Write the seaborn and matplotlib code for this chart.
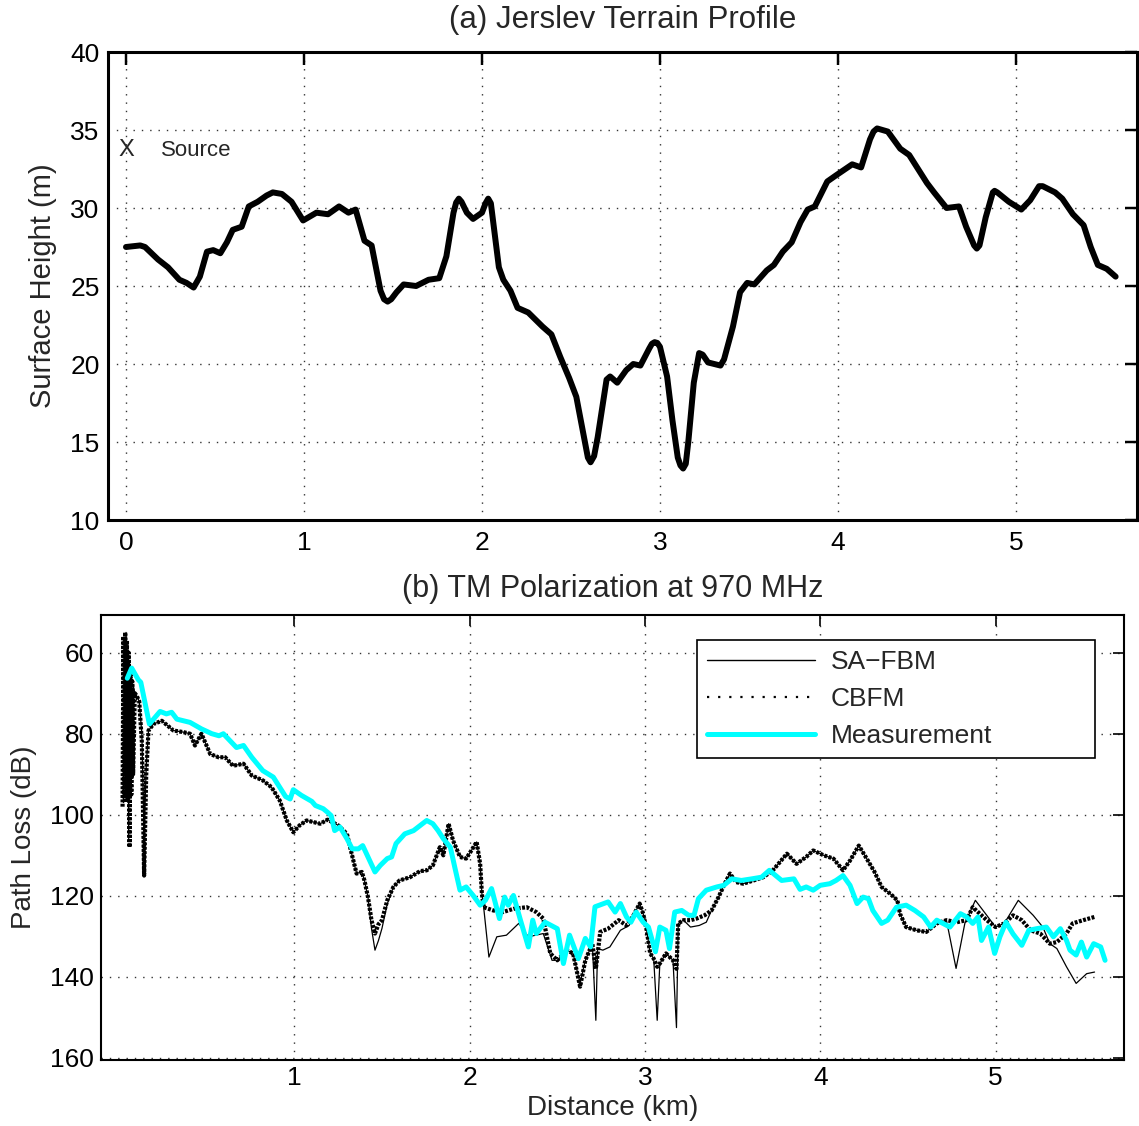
import matplotlib
matplotlib.use("Agg")
import matplotlib.pyplot as plt
import seaborn as sns
import pandas as pd

# ---------------- (a) terrain profile ----------------
terrain_km = [0.0, 0.08, 0.107, 0.18, 0.236, 0.30, 0.34, 0.38, 0.415, 0.455, 0.49, 0.53,
              0.567, 0.60, 0.65, 0.69, 0.74, 0.79, 0.825, 0.876, 0.93, 0.995, 1.07, 1.135, 1.197,
              1.25, 1.29, 1.34, 1.38, 1.43, 1.45, 1.47, 1.49, 1.52, 1.56, 1.63, 1.70, 1.76, 1.80, 1.84,
              1.855, 1.87, 1.885, 1.915, 1.95, 2.0, 2.02, 2.035, 2.05, 2.06, 2.095, 2.12, 2.16, 2.20,
              2.26, 2.34, 2.39, 2.44, 2.49, 2.53, 2.58, 2.595, 2.61, 2.63, 2.65, 2.70, 2.72, 2.76,
              2.81, 2.85, 2.89, 2.94, 2.955, 2.97, 2.985, 3.0, 3.04, 3.07, 3.10, 3.115, 3.13, 3.145,
              3.16, 3.19, 3.22, 3.24, 3.27, 3.34, 3.36, 3.41, 3.45, 3.49, 3.53, 3.60, 3.64, 3.69,
              3.74, 3.79, 3.83, 3.87, 3.94, 3.99, 4.08, 4.13, 4.18, 4.20, 4.22, 4.28, 4.35, 4.40,
              4.50, 4.54, 4.61, 4.68, 4.72, 4.765, 4.78, 4.795, 4.83, 4.87, 4.88, 4.895, 4.96,
              5.03, 5.08, 5.13, 5.15, 5.22, 5.26, 5.32, 5.38, 5.42, 5.46, 5.51, 5.56]
terrain_m = [27.5, 27.6, 27.5, 26.7, 26.2, 25.4, 25.2, 24.9, 25.6, 27.2, 27.3, 27.1,
             27.8, 28.6, 28.8, 30.1, 30.4, 30.8, 31.0, 30.9, 30.4, 29.2, 29.7, 29.6, 30.1,
             29.7, 29.9, 27.9, 27.6, 24.7, 24.15, 24.0, 24.15, 24.6, 25.1, 25.0, 25.4, 25.5, 26.9, 29.7,
             30.35, 30.6, 30.4, 29.7, 29.3, 29.7, 30.3, 30.6, 30.3, 29.4, 26.2, 25.4, 24.7, 23.6,
             23.3, 22.4, 21.9, 20.45, 19.1, 17.9, 14.9, 14.0, 13.7, 14.1, 15.3, 19.0, 19.2, 18.8,
             19.6, 20.0, 19.9, 21.0, 21.3, 21.4, 21.35, 21.1, 19.2, 16.4, 14.0, 13.5, 13.3, 13.6,
             15.1, 18.8, 20.7, 20.6, 20.1, 19.9, 20.3, 22.4, 24.6, 25.2, 25.1, 26.0, 26.35, 27.2,
             27.8, 29.1, 29.9, 30.1, 31.7, 32.1, 32.8, 32.6, 34.4, 34.9, 35.1, 34.9, 33.8, 33.4,
             31.6, 31.0, 30.0, 30.1, 28.8, 27.6, 27.4, 27.6, 29.4, 31.0, 31.1, 31.0, 30.4,
             29.9, 30.5, 31.4, 31.4, 31.0, 30.6, 29.6, 28.9, 27.5, 26.35, 26.1, 25.6]

# ---------------- (b) path loss at 970 MHz ----------------
safbm_km = [0.025, 0.03, 0.035, 0.04, 0.045, 0.05, 0.055, 0.06, 0.065, 0.07, 0.075, 0.08,
            0.09, 0.10, 0.115, 0.13, 0.143, 0.155, 0.168, 0.196, 0.244, 0.31, 0.367, 0.405,
            0.433, 0.47, 0.52, 0.567, 0.605, 0.65, 0.71, 0.757, 0.82, 0.87, 0.917, 0.957,
            0.994, 1.03, 1.07, 1.11, 1.147, 1.19, 1.25, 1.30, 1.327, 1.355, 1.385, 1.40,
            1.42, 1.44, 1.46, 1.48, 1.50, 1.53, 1.565, 1.60, 1.66, 1.717, 1.755, 1.79, 1.83,
            1.85, 1.88, 1.905, 1.945, 1.98, 2.01, 2.04, 2.06, 2.07, 2.08, 2.11, 2.155, 2.21,
            2.28, 2.335, 2.42, 2.47, 2.50, 2.555, 2.59, 2.63, 2.66, 2.70, 2.72, 2.73, 2.76,
            2.80, 2.86, 2.91, 2.93, 2.97, 2.99, 3.01, 3.03, 3.05, 3.07, 3.085, 3.12, 3.16,
            3.18, 3.19, 3.22, 3.26, 3.31, 3.35, 3.38, 3.42, 3.455, 3.485, 3.52, 3.56, 3.62,
            3.675, 3.73, 3.81, 3.865, 3.92, 3.96, 4.02, 4.075, 4.13, 4.17, 4.22, 4.265, 4.31,
            4.35, 4.40, 4.44, 4.455, 4.49, 4.55, 4.605, 4.665, 4.72, 4.775, 4.825, 4.885,
            4.95, 5.00, 5.05, 5.13, 5.215, 5.27, 5.31, 5.35, 5.405, 5.46, 5.52, 5.565]
safbm_db = [97, 57, 95, 55, 96, 58, 106, 62, 95, 66, 90, 68,
            70, 70.6, 72, 80, 106, 88, 79.2, 77.6, 76.8, 79.2, 79.6, 80.0,
            82.9, 80.0, 85.0, 85.8, 85.8, 87.9, 87.4, 90.3, 91.5, 93.2, 96.5, 101.4,
            104.3, 102.6, 101.4, 101.8, 102.2, 101.2, 102.6, 104.7, 109.6, 114.5, 114.1, 116.2,
            120.3, 128, 133.4, 131, 128, 122, 117.8, 116.2, 115.4, 113.9, 113.7, 112.5, 108.0,
            110.0, 102.2, 106.3, 110.4, 110.8, 108.8, 106.7, 112.1, 119.5, 122.8, 135.1, 130.1, 129.7,
            126.8, 130.1, 129.3, 135.9, 135.9, 133.4, 134.2, 141.6, 135.9, 131.8, 150.7, 133, 133.4,
            132.6, 128.5, 127.3, 125.2, 121.9, 124.4, 128.5, 134.2, 135.5, 150.7, 136.7, 134.2, 135.9,
            152.5, 126.8, 126.0, 127.7, 127.3, 126.5, 123.6, 120.3, 117.0, 114.5, 116.6, 117.0, 116.2,
            115.4, 113.7, 109.6, 112.1, 110.4, 108.8, 110.0, 110.8, 113.7, 111.3, 107.6, 110.8, 114.1,
            117.8, 119.5, 121.1, 124.4, 127.7, 128.5, 128.9, 126.8, 126.0, 137.9, 126.8, 121.1,
            124.8, 127.7, 126.8, 121.1, 124.8, 127.7, 131.8, 133, 137.5, 141.6, 139.2, 138.8]

cbfm_km = [0.02, 0.025, 0.03, 0.035, 0.04, 0.045, 0.05, 0.055, 0.06, 0.065, 0.07, 0.075,
           0.08, 0.09, 0.10, 0.115, 0.13, 0.143, 0.155, 0.168, 0.196, 0.244, 0.31, 0.367,
           0.405, 0.433, 0.47, 0.52, 0.567, 0.605, 0.65, 0.71, 0.757, 0.82, 0.87, 0.917,
           0.957, 0.994, 1.03, 1.07, 1.11, 1.147, 1.19, 1.25, 1.30, 1.327, 1.355, 1.385,
           1.40, 1.42, 1.44, 1.46, 1.48, 1.50, 1.53, 1.565, 1.60, 1.66, 1.717, 1.755, 1.79,
           1.83, 1.85, 1.88, 1.905, 1.945, 1.98, 2.01, 2.04, 2.06, 2.07, 2.08, 2.135, 2.19,
           2.25, 2.325, 2.38, 2.42, 2.46, 2.50, 2.555, 2.59, 2.63, 2.66, 2.70, 2.72, 2.745,
           2.79, 2.85, 2.895, 2.93, 2.97, 2.99, 3.01, 3.03, 3.05, 3.07, 3.085, 3.12, 3.16,
           3.18, 3.19, 3.22, 3.26, 3.295, 3.34, 3.38, 3.42, 3.455, 3.485, 3.52, 3.56, 3.62,
           3.675, 3.73, 3.81, 3.865, 3.92, 3.96, 4.02, 4.075, 4.13, 4.17, 4.22, 4.265, 4.31,
           4.35, 4.40, 4.44, 4.455, 4.49, 4.55, 4.605, 4.665, 4.72, 4.78, 4.835, 4.87, 4.91,
           4.95, 5.00, 5.05, 5.10, 5.15, 5.20, 5.255, 5.31, 5.35, 5.405, 5.44, 5.50, 5.565]
cbfm_db = [98, 56, 96, 55, 97, 57, 96, 60, 108, 64, 95, 67,
           90, 70, 70.6, 72, 82, 115, 90, 79.2, 77.6, 76.8, 79.2, 79.6,
           80.0, 82.9, 80.0, 85.0, 85.8, 85.8, 87.9, 87.4, 90.3, 91.5, 93.2, 96.5,
           101.4, 104.3, 102.6, 101.4, 101.8, 102.2, 101.2, 102.6, 104.7, 109.6, 114.5, 114.1,
           116.2, 120.3, 126, 129.3, 127, 126, 121.1, 117.8, 116.2, 115.4, 113.9, 113.7, 112.5,
           108.0, 110.0, 102.2, 106.3, 110.4, 110.8, 108.8, 106.7, 112.1, 119.5, 122.8, 123.6, 124.0,
           123.2, 122.8, 124.0, 125.6, 134.2, 135.9, 133.4, 134.2, 142.4, 135.9, 131.8, 138, 128.9,
           128.1, 126.0, 127.3, 125.2, 121.9, 124.4, 128.5, 134.2, 135.5, 137.5, 136.7, 134.2, 135.9,
           138, 126.8, 126.0, 126.0, 125.6, 124.8, 123.6, 120.3, 117.0, 114.5, 116.6, 117.0, 116.2,
           115.4, 113.7, 109.6, 112.1, 110.4, 108.8, 110.0, 110.8, 113.7, 111.3, 107.6, 110.8, 114.1,
           117.8, 119.5, 121.1, 124.4, 127.7, 128.5, 128.9, 126.8, 126.0, 126.5, 126.0, 122.8, 124.4,
           126.0, 127.7, 126.8, 124.8, 126.0, 128.5, 129.3, 131.8, 131.4, 129.3, 126.8, 126.0, 125.2]

meas_km = [0.047, 0.072, 0.11, 0.124, 0.173, 0.234, 0.27, 0.30, 0.33, 0.405, 0.47, 0.53,
           0.57, 0.595, 0.67, 0.71, 0.757, 0.82, 0.88, 0.95, 0.976, 0.994, 1.04, 1.10,
           1.12, 1.165, 1.19, 1.21, 1.23, 1.26, 1.30, 1.33, 1.365, 1.39, 1.42, 1.46, 1.49,
           1.53, 1.555, 1.58, 1.63, 1.68, 1.755, 1.79, 1.82, 1.85, 1.89, 1.915, 1.945, 1.98,
           2.02, 2.06, 2.09, 2.125, 2.17, 2.20, 2.22, 2.25, 2.29, 2.335, 2.36, 2.38, 2.43,
           2.50, 2.535, 2.57, 2.62, 2.66, 2.69, 2.715, 2.74, 2.79, 2.83, 2.86, 2.895, 2.92,
           2.95, 2.99, 3.02, 3.06, 3.085, 3.12, 3.14, 3.17, 3.21, 3.25, 3.28, 3.305, 3.35,
           3.41, 3.45, 3.495, 3.55, 3.61, 3.665, 3.71, 3.78, 3.85, 3.885, 3.92, 3.96, 4.0,
           4.055, 4.09, 4.13, 4.17, 4.21, 4.245, 4.275, 4.30, 4.35, 4.385, 4.435, 4.49, 4.54,
           4.59, 4.63, 4.665, 4.70, 4.74, 4.80, 4.835, 4.87, 4.90, 4.92, 4.96, 4.995, 5.025,
           5.06, 5.10, 5.15, 5.19, 5.235, 5.29, 5.33, 5.37, 5.405, 5.425, 5.46, 5.49, 5.52,
           5.56, 5.60, 5.625]
meas_db = [66.3, 63.8, 66.7, 67.3, 77.6, 74.5, 75.1, 74.7, 76.4, 77.2, 78.8, 80.0,
           80.5, 80.0, 83.4, 82.9, 85.8, 89.1, 90.7, 95.5, 96.1, 93.8, 95.2, 96.7,
           97.7, 98.5, 99.4, 100.2, 103.9, 103.0, 105.9, 108.4, 108.4, 107.6, 110.4, 114.1, 112.5,
           110.8, 110.4, 107.1, 104.7, 103.9, 101.4, 102.2, 103.9, 105.9, 108.0, 112.9, 118.6, 117.8,
           119.9, 122.3, 121.1, 118.2, 125.6, 120.3, 122.3, 119.9, 126.0, 132.6, 126.0, 129.3, 126.5,
           128.1, 136.7, 129.7, 135.5, 130.5, 132.6, 122.7, 122.3, 121.5, 124.0, 121.9, 125.2, 126.5,
           124.0, 126.5, 127.7, 133.8, 127.7, 128.5, 133.0, 124.0, 123.6, 124.8, 124.8, 120.7, 118.6,
           117.8, 117.4, 115.8, 116.2, 115.8, 115.4, 113.7, 116.2, 115.8, 118.4, 117.8, 118.6, 117.4,
           117.0, 116.2, 115.0, 117.4, 121.9, 120.3, 120.7, 123.6, 126.8, 126.0, 122.8, 122.3, 123.6,
           125.2, 127.7, 126.0, 126.8, 127.7, 124.4, 125.2, 126.8, 125.2, 131.0, 127.7, 134.2, 130.1,
           126.5, 129.4, 132.2, 128.5, 128.1, 127.7, 130.1, 128.1, 131.0, 133.4, 134.6, 131.4, 135.1,
           131.8, 132.6, 135.9]

series_labels = ["SA\u2212FBM", "CBFM", "Measurement"]

# ---------------- styling ----------------
sns.set_style("white")
plt.rcParams["font.family"] = ["Liberation Sans", "DejaVu Sans"]
plt.rcParams["xtick.direction"] = "in"
plt.rcParams["ytick.direction"] = "in"

W, H = 1139, 1126
fig = plt.figure(figsize=(W / 100, H / 100), dpi=100)
fig.patch.set_facecolor("white")

grid_kw = dict(color="0.2", linestyle=(0, (1, 5)), linewidth=1.0)


def matlab_axes(ax, spine_lw, tick_len):
    for s in ax.spines.values():
        s.set_visible(True)
        s.set_color("black")
        s.set_linewidth(spine_lw)
    ax.tick_params(which="both", direction="in", top=True, right=True,
                   length=tick_len, width=spine_lw * 0.8, colors="black")
    ax.grid(True, **grid_kw)
    ax.set_axisbelow(True)


# ---- top: terrain ----
ax1 = fig.add_axes([108 / W, 1 - 520 / H, (1137 - 108) / W, (520 - 52) / H])
df_t = pd.DataFrame({"km": terrain_km, "m": terrain_m})
sns.lineplot(data=df_t, x="km", y="m", ax=ax1, color="black", linewidth=4.3,
             estimator=None, sort=False, solid_joinstyle="round", solid_capstyle="round")
ax1.set_xlim(-0.101, 5.68)
ax1.set_ylim(10, 40)
ax1.set_xticks([0, 1, 2, 3, 4, 5])
ax1.set_yticks([10, 15, 20, 25, 30, 35, 40])
matlab_axes(ax1, 2.2, 9)
ax1.tick_params(axis="both", labelsize=19)
ax1.tick_params(axis="x", pad=8)
ax1.tick_params(axis="y", pad=6)
ax1.set_xlabel("")
ax1.set_ylabel("Surface Height (m)", fontsize=21)
ax1.yaxis.set_label_coords((57 - 108) / 1029, 0.5)
ax1.set_title("(a) Jerslev Terrain Profile", fontsize=22.5, pad=17)
ax1.text(0.0, 33.7, "X", fontsize=17, ha="center", va="center")
ax1.text(0.197, 33.7, "Source", fontsize=16, ha="left", va="center")

# ---- bottom: path loss ----
ax2 = fig.add_axes([101 / W, 1 - 1060 / H, (1124 - 101) / W, (1060 - 615) / H])
df_s = pd.DataFrame({"km": safbm_km, "db": safbm_db})
df_c = pd.DataFrame({"km": cbfm_km, "db": cbfm_db})
df_m = pd.DataFrame({"km": meas_km, "db": meas_db})
sns.lineplot(data=df_s, x="km", y="db", ax=ax2, color="black", linewidth=0.9,
             estimator=None, sort=False, label=series_labels[0])
sns.lineplot(data=df_c, x="km", y="db", ax=ax2, color="black", linewidth=3.0,
             linestyle=(0, (0.7, 0.35)), estimator=None, sort=False, label=series_labels[1])
sns.lineplot(data=df_m, x="km", y="db", ax=ax2, color="#00FFFF", linewidth=3.6,
             estimator=None, sort=False, label=series_labels[2],
             solid_joinstyle="round", solid_capstyle="round")
ax2.set_xlim(-0.103, 5.733)
ax2.set_ylim(160.5, 50.7)
ax2.set_xticks([1, 2, 3, 4, 5])
ax2.set_yticks([60, 80, 100, 120, 140, 160])
matlab_axes(ax2, 1.5, 8)
ax2.tick_params(axis="both", labelsize=19)
ax2.tick_params(axis="x", pad=4)
ax2.tick_params(axis="y", pad=5)
ax2.set_xlabel("Distance (km)", fontsize=20)
ax2.xaxis.set_label_coords(0.5, (1060 - 1095) / 445)
ax2.set_ylabel("Path Loss (dB)", fontsize=20)
ax2.yaxis.set_label_coords((37 - 101) / 1023, 0.5)
ax2.set_title("(b) TM Polarization at 970 MHz", fontsize=22, pad=13)

# legend box spanning the same region as the MATLAB legend
lx0 = (697 - 101) / 1023
lx1 = (1095 - 101) / 1023
ly0 = (1060 - 757) / 445
ly1 = (1060 - 640) / 445
handles, labels = ax2.get_legend_handles_labels()
leg = ax2.legend(handles, labels, loc="upper left",
                 bbox_to_anchor=(lx0, ly0, lx1 - lx0, ly1 - ly0), mode="expand",
                 fontsize=19, frameon=True, fancybox=False, shadow=False,
                 framealpha=1.0, edgecolor="black", handlelength=4.1,
                 handletextpad=0.6, labelspacing=0.49, borderpad=0.38,
                 borderaxespad=0.0)
leg.get_frame().set_linewidth(1.2)
leg.get_lines()[0].set_linewidth(1.0)
leg.get_lines()[1].set_linewidth(1.6)
leg.get_lines()[1].set_linestyle((0, (1, 4)))

fig.savefig("out.png", dpi=100, facecolor="white")
